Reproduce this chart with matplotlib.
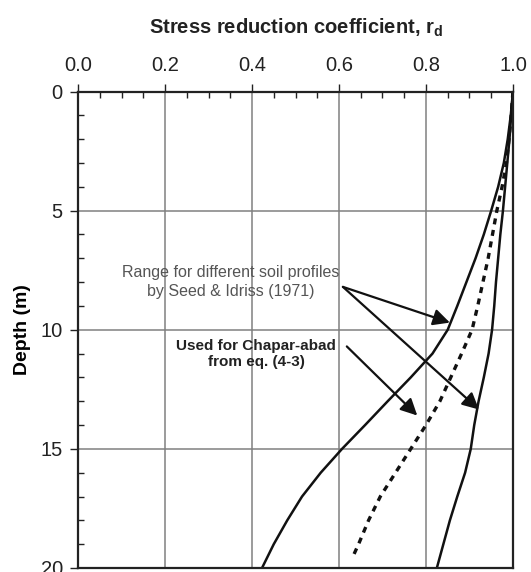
import matplotlib
matplotlib.use("Agg")
import matplotlib.pyplot as plt
from matplotlib.ticker import MultipleLocator, FormatStrFormatter

plt.rcParams['font.family'] = ['Liberation Sans', 'DejaVu Sans']
plt.rcParams['mathtext.fontset'] = 'custom'
plt.rcParams['mathtext.rm'] = 'Liberation Sans'
plt.rcParams['mathtext.bf'] = 'Liberation Sans:bold'

profondeur = list(range(0, 21))

# courbe gauche (borne inferieure, Seed & Idriss)
rd_bas = [1.0, 0.995, 0.988, 0.979, 0.966, 0.950, 0.933, 0.914, 0.893, 0.872, 0.850,
          0.815, 0.765, 0.712, 0.660, 0.607, 0.558, 0.515, 0.481, 0.450, 0.423]

# courbe droite (borne superieure)
rd_haut = [1.0, 0.996, 0.992, 0.987, 0.982, 0.977, 0.971, 0.966, 0.961, 0.957, 0.952,
           0.944, 0.933, 0.921, 0.911, 0.903, 0.890, 0.872, 0.855, 0.840, 0.825]

# courbe utilisee pour Chapar-abad, eq. (4-3)
prof_chap = [0, 1, 2, 3, 4, 5, 6, 7, 8, 9, 10, 11, 12, 13, 14, 15, 16, 17, 18, 19, 19.6]
rd_chap = [1.0, 0.996, 0.991, 0.985, 0.975, 0.963, 0.953, 0.943, 0.931, 0.919, 0.906,
           0.882, 0.857, 0.832, 0.800, 0.765, 0.730, 0.695, 0.668, 0.645, 0.630]

fig = plt.figure(figsize=(5.31, 5.72), dpi=100)
ax = fig.add_axes([0.147, 0.007, 0.819, 0.833])

ax.plot(rd_bas, profondeur, color='#111111', lw=1.8)
ax.plot(rd_haut, profondeur, color='#111111', lw=1.8)
ax.plot(rd_chap, prof_chap, color='#111111', lw=2.4, linestyle=(0, (1.8, 1.7)))

ax.set_xlim(0, 1.0)
ax.set_ylim(20, 0)
ax.xaxis.set_major_locator(MultipleLocator(0.2))
ax.xaxis.set_minor_locator(MultipleLocator(0.05))
ax.yaxis.set_major_locator(MultipleLocator(5))
ax.yaxis.set_minor_locator(MultipleLocator(1))
ax.xaxis.tick_top()
ax.xaxis.set_major_formatter(FormatStrFormatter('%.1f'))
ax.tick_params(which='major', direction='out', length=6, width=1, labelsize=14.5,
               colors='#222222')
ax.tick_params(axis='x', which='major', pad=6)
ax.tick_params(axis='y', which='major', pad=5)
ax.tick_params(which='minor', direction='in', length=4, width=1, color='#222222')
ax.tick_params(axis='x', which='both', top=True, bottom=False)
ax.tick_params(axis='y', which='both', left=True, right=False)
ax.grid(True, which='major', color='#808080', lw=1.1)
for s in ax.spines.values():
    s.set_linewidth(1.6)
    s.set_color('#222222')

ax.set_ylabel('Depth (m)', fontsize=14, fontweight='bold', labelpad=7)
fig.text(0.557, 0.951, 'Stress reduction coefficient, r$_\\mathbf{d}$',
         ha='center', va='center', fontsize=14.5, fontweight='bold', color='#222222')

ax.text(0.35, 8.0, 'Range for different soil profiles\nby Seed & Idriss (1971)',
        ha='center', va='center', fontsize=11.5, color='#555555', linespacing=1.35)
ax.text(0.41, 11.02, 'Used for Chapar-abad\nfrom eq. (4-3)',
        ha='center', va='center', fontsize=11, fontweight='bold', color='#222222',
        linespacing=1.25)

fleche = dict(arrowstyle='-|>', mutation_scale=25, lw=1.6, color='#111111',
              shrinkA=0, shrinkB=0)
ax.annotate('', xy=(0.855, 9.7), xytext=(0.609, 8.2), arrowprops=fleche)
ax.annotate('', xy=(0.922, 13.35), xytext=(0.609, 8.2), arrowprops=fleche)
ax.annotate('', xy=(0.78, 13.6), xytext=(0.618, 10.7), arrowprops=fleche)

fig.savefig('out.png', dpi=100)
